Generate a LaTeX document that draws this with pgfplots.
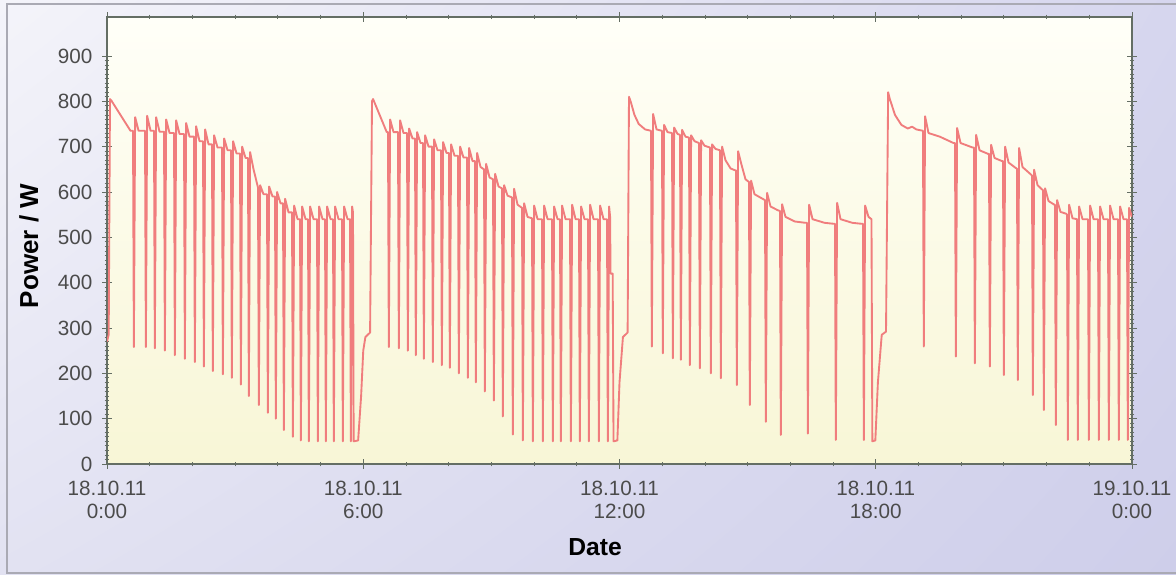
\documentclass[border=0pt]{standalone}
\usepackage{pgfplots}
\pgfplotsset{compat=1.18}
\usetikzlibrary{shadings}
\usepackage{fontspec}
\setmainfont{Liberation Sans}
\definecolor{linec}{RGB}{240,125,125}
\definecolor{ticklab}{RGB}{75,75,75}
\definecolor{axc}{RGB}{100,110,100}
\definecolor{ul}{RGB}{244,244,250}
\definecolor{ur}{RGB}{214,214,238}
\definecolor{ll}{RGB}{226,226,242}
\definecolor{lr}{RGB}{206,206,234}
\definecolor{bgtop}{RGB}{255,255,248}
\definecolor{bgbot}{RGB}{248,246,214}
\definecolor{frame}{RGB}{170,170,180}
\begin{document}
\begin{tikzpicture}[x=0.75pt,y=0.75pt]
\shade[upper left=ul, upper right=ur, lower left=ll, lower right=lr] (0,0) rectangle (1176,574);
\draw[frame, line width=0.8pt] (1176,1) -- (7,1) -- (7,570) -- (1176,570);
\begin{axis}[
  at={(80.25pt,82.5pt)}, anchor=south west,
  width=768.75pt, height=335.25pt, scale only axis,
  xmin=0, xmax=24, ymin=0, ymax=986,
  xtick={0,6,12,18,24},
  xticklabels={{18.10.11\\0:00},{18.10.11\\6:00},{18.10.11\\12:00},{18.10.11\\18:00},{19.10.11\\0:00}},
  minor x tick num=5,
  ytick={0,100,...,900},
  minor y tick num=9,
  xtick pos=both, ytick pos=both,
  xticklabel pos=lower, yticklabel pos=left,
  tick align=center,
  major tick length=7pt, minor tick length=3.5pt,
  axis line style={axc, line width=0.8pt},
  tick style={axc, line width=0.6pt},
  tick label style={font=\fontsize{15.5}{17}\selectfont, text=ticklab},
  xticklabel style={align=center, yshift=-6pt},
  yticklabel style={xshift=-4pt},
  axis background/.style={shade, top color=bgtop, bottom color=bgbot},
  /pgf/number format/assume math mode=true,
]
\addplot[linec, line width=1.4pt, line join=round, no markers] table {
h p
0.000 270
0.040 285
0.070 805
0.100 802
0.550 735
0.609 735
0.629 258
0.659 765
0.739 735
0.890 735
0.910 258
0.940 768
1.020 735
1.100 735
1.120 255
1.150 765
1.230 733
1.335 733
1.355 250
1.385 760
1.465 730
1.569 730
1.589 240
1.619 758
1.699 728
1.803 728
1.823 232
1.853 752
1.933 722
2.037 722
2.057 225
2.087 745
2.167 712
2.248 712
2.268 215
2.298 738
2.378 705
2.458 705
2.478 205
2.508 725
2.588 698
2.693 698
2.713 198
2.743 718
2.823 692
2.903 692
2.923 190
2.953 712
3.033 685
3.114 685
3.134 175
3.164 700
3.244 675
3.301 675
3.321 150
3.351 688
3.431 650
3.535 610
3.555 130
3.585 615
3.665 595
3.746 595
3.766 113
3.796 612
3.876 590
3.933 590
3.953 100
3.983 600
4.063 575
4.121 575
4.141 75
4.171 585
4.251 555
4.332 555
4.352 60
4.382 570
4.462 540
4.519 540
4.539 52
4.569 568
4.649 540
4.706 540
4.726 50
4.756 568
4.836 540
4.917 540
4.937 50
4.967 568
5.047 540
5.104 540
5.124 50
5.154 568
5.234 540
5.291 540
5.311 50
5.341 568
5.421 540
5.502 540
5.522 50
5.552 568
5.632 540
5.690 540
5.710 50
5.740 568
5.760 555
5.775 50
5.880 52
5.950 150
6.000 250
6.050 280
6.160 290
6.205 800
6.230 805
6.550 732
6.579 732
6.599 258
6.629 760
6.709 732
6.813 732
6.833 255
6.863 758
6.943 730
7.024 730
7.044 250
7.074 740
7.154 718
7.211 718
7.231 240
7.261 732
7.341 708
7.399 708
7.419 232
7.449 725
7.529 700
7.609 700
7.629 225
7.659 716
7.739 692
7.820 692
7.840 218
7.870 710
7.950 686
8.007 686
8.027 212
8.057 705
8.137 680
8.218 680
8.238 200
8.268 700
8.348 676
8.429 676
8.449 190
8.479 697
8.559 668
8.616 668
8.636 180
8.666 686
8.746 655
8.827 650
8.847 160
8.877 662
8.957 632
9.038 628
9.058 140
9.088 640
9.168 612
9.248 608
9.268 105
9.298 615
9.378 592
9.482 588
9.502 65
9.532 607
9.612 572
9.717 565
9.737 52
9.767 575
9.847 545
9.951 542
9.971 50
10.001 570
10.081 540
10.185 540
10.205 50
10.235 570
10.315 540
10.419 540
10.439 50
10.469 568
10.549 540
10.606 540
10.626 50
10.656 570
10.736 540
10.841 540
10.861 50
10.891 572
10.971 540
11.051 540
11.071 50
11.101 568
11.181 540
11.262 540
11.282 50
11.312 572
11.392 540
11.496 540
11.516 50
11.546 570
11.626 540
11.707 540
11.727 50
11.757 568
11.780 545
11.790 420
11.840 420
11.860 50
11.950 52
12.000 180
12.080 280
12.190 290
12.222 810
12.260 800
12.350 770
12.450 750
12.600 738
12.737 735
12.757 259
12.787 772
12.867 738
12.994 735
13.014 244
13.044 748
13.124 732
13.229 730
13.249 233
13.279 742
13.359 728
13.416 726
13.436 230
13.466 737
13.546 722
13.627 720
13.647 218
13.677 725
13.757 712
13.861 708
13.881 211
13.911 714
13.991 702
14.118 698
14.138 200
14.168 705
14.248 695
14.352 692
14.372 189
14.402 700
14.482 670
14.600 652
14.700 648
14.727 648
14.747 174
14.777 690
14.857 660
14.950 628
15.031 622
15.051 130
15.081 625
15.161 595
15.350 585
15.406 582
15.426 93
15.456 598
15.536 568
15.700 560
15.757 558
15.777 64
15.807 573
15.887 545
16.100 535
16.350 532
16.390 532
16.410 67
16.440 572
16.520 540
16.800 532
17.000 530
17.045 530
17.065 53
17.095 576
17.175 540
17.450 532
17.650 530
17.701 530
17.721 53
17.751 570
17.831 545
17.900 540
17.920 50
17.990 52
18.050 180
18.140 285
18.240 292
18.290 820
18.330 805
18.450 770
18.600 748
18.750 740
18.850 744
18.950 738
19.105 735
19.125 259
19.155 767
19.235 730
19.500 722
19.820 708
19.855 708
19.875 237
19.905 741
19.985 708
20.270 698
20.300 698
20.320 222
20.350 726
20.430 692
20.630 684
20.651 684
20.671 215
20.701 704
20.781 675
20.960 668
20.979 668
20.999 196
21.029 700
21.109 665
21.290 652
21.306 652
21.326 185
21.356 697
21.436 655
21.640 638
21.658 636
21.678 152
21.708 649
21.788 615
21.900 605
21.915 604
21.935 119
21.965 608
22.045 580
22.180 572
22.196 572
22.216 86
22.246 582
22.326 556
22.460 552
22.477 550
22.497 53
22.527 572
22.607 542
22.711 540
22.731 53
22.761 568
22.841 540
22.969 540
22.989 53
23.019 570
23.099 540
23.203 540
23.223 53
23.253 568
23.333 540
23.437 540
23.457 53
23.487 570
23.567 540
23.671 540
23.691 53
23.721 568
23.801 540
23.882 540
23.902 53
23.932 565
24.000 545
};
\end{axis}
\node[rotate=90, font=\fontsize{19.5}{21}\selectfont\bfseries] at (29,328) {Power / W};
\node[font=\fontsize{18.5}{20}\selectfont\bfseries] at (595,27) {Date};
\pgfresetboundingbox
\path[use as bounding box] (0,0) rectangle (1176,574);
\end{tikzpicture}
\end{document}
